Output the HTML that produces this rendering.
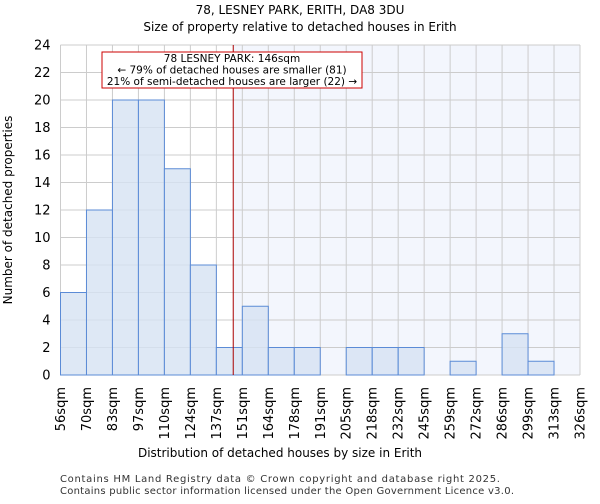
<!DOCTYPE html>
<html><head><meta charset="utf-8"><style>
body{margin:0;background:#fff;font-family:"DejaVu Sans","Liberation Sans",sans-serif}
</style></head><body>
<svg id="c" width="600" height="500" xmlns="http://www.w3.org/2000/svg" font-family="DejaVu Sans, Liberation Sans, sans-serif">
<text x="300" y="14" font-size="12" text-anchor="middle">78, LESNEY PARK, ERITH, DA8 3DU</text>
<text x="300" y="31" font-size="12" text-anchor="middle">Size of property relative to detached houses in Erith</text>
<g id="plot"></g>
<text x="280" y="457" font-size="12" text-anchor="middle">Distribution of detached houses by size in Erith</text>
<text transform="translate(12,210) rotate(-90)" font-size="12" text-anchor="middle">Number of detached properties</text>
<text x="60" y="482" font-size="10" fill="#333" textLength="440">Contains HM Land Registry data © Crown copyright and database right 2025.</text>
<text x="60" y="494" font-size="10" fill="#333" textLength="454">Contains public sector information licensed under the Open Government Licence v3.0.</text>
</svg>
<script>
const tickLabels=["56sqm","70sqm","83sqm","97sqm","110sqm","124sqm","137sqm","151sqm","164sqm","178sqm","191sqm","205sqm","218sqm","232sqm","245sqm","259sqm","272sqm","286sqm","299sqm","313sqm","326sqm"];
const counts=[6,12,20,20,15,8,2,5,2,2,0,2,2,2,0,1,0,3,1,0];
const yTicks=[0,2,4,6,8,10,12,14,16,18,20,22,24];
const propertyBinPos=6.65;
const NS="http://www.w3.org/2000/svg";
const g=document.getElementById('plot');
const x0=60.5,x1=580,yTop=45,yBot=375,yMax=24;
const bw=(x1-x0)/counts.length;
const X=i=>x0+i*bw, Y=v=>yBot-v/yMax*(yBot-yTop);
function el(t,a){const e=document.createElementNS(NS,t);for(const k in a)e.setAttribute(k,a[k]);g.appendChild(e);return e;}
const lx=X(propertyBinPos);
let r=el('rect',{x:lx,y:yTop,width:x1-lx,height:yBot-yTop,fill:'#f3f6fd'});


for(let i=0;i<=counts.length;i++){let l=el('line',{x1:X(i),x2:X(i),y1:yTop,y2:yBot,stroke:'#ccc','stroke-width':1});

}
yTicks.forEach(v=>{let l=el('line',{x1:x0,x2:x1,y1:Y(v),y2:Y(v),stroke:'#ccc','stroke-width':1});


let t=el('text',{x:x0-10,y:Y(v)+4.5,'font-size':13,'text-anchor':'end'});t.textContent=v;

});
counts.forEach((c,i)=>{if(!c)return;let b=el('rect',{x:X(i),y:Y(c),width:bw,height:Y(0)-Y(c),fill:'#d6e2f3','fill-opacity':0.8,stroke:'#5b8bd6','stroke-width':1});

});
tickLabels.forEach((s,i)=>{let t=el('text',{transform:`translate(${X(i)+4.5},387) rotate(-90)`,'font-size':13,'text-anchor':'end'});t.textContent=s;

});
let ml=el('line',{x1:lx,x2:lx,y1:yTop,y2:yBot,stroke:'#a00','stroke-width':1});


let box=el('rect',{x:102,y:52,width:260,height:36,fill:'#fff',stroke:'#c00','stroke-width':1});


["78 LESNEY PARK: 146sqm","← 79% of detached houses are smaller (81)","21% of semi-detached houses are larger (22) →"].forEach((s,i)=>{let t=el('text',{x:232,y:62+i*11.5,'font-size':10.5,'text-anchor':'middle'});t.textContent=s;

});
</script>
</body></html>
